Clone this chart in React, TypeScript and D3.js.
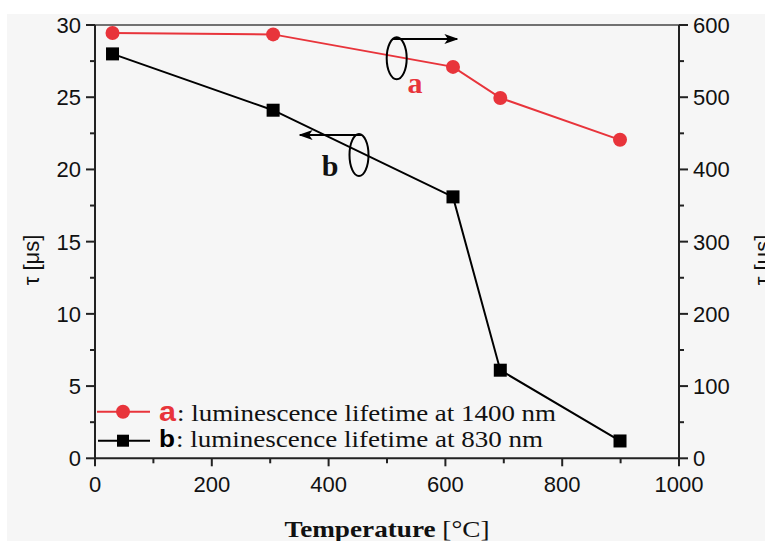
import React from "react";
import * as d3 from "d3";

// Temperature (°C) and luminescence lifetimes
const temperatures = [30, 305, 613, 694, 899];
const lifetime1400 = [589, 587, 542, 499, 441]; // series a, right axis (μs)
const lifetime830 = [28.0, 24.1, 18.1, 6.1, 1.2]; // series b, left axis (μs)

const xTicks = [0, 200, 400, 600, 800, 1000];
const leftTicks = [0, 5, 10, 15, 20, 25, 30];
const rightTicks = [0, 100, 200, 300, 400, 500, 600];

const W = 765;
const H = 541;
const M = { left: 95, right: 679, top: 25, bottom: 458.3 };

const RED = "#e8343b";
const AX = "#222";
const SANS = "'Liberation Sans', Arial, sans-serif";
const SERIF = "'Liberation Serif', 'Times New Roman', serif";

export default function App() {
  const x = d3.scaleLinear().domain([0, 1000]).range([M.left, M.right]);
  const yL = d3.scaleLinear().domain([0, 30]).range([M.bottom, M.top]);
  const yR = d3.scaleLinear().domain([0, 600]).range([M.bottom, M.top]);

  const lineA = d3
    .line<number>()
    .x((_, i) => x(temperatures[i]))
    .y((d) => yR(d));
  const lineB = d3
    .line<number>()
    .x((_, i) => x(temperatures[i]))
    .y((d) => yL(d));

  const xMinor = d3.range(100, 1000, 200);
  const leftMinor = d3.range(2.5, 30, 5);
  const rightMinor = d3.range(50, 600, 100);

  return (
    <svg
      width={W}
      height={H}
      style={{ position: "absolute", left: 0, top: 0, background: "#fff" }}
    >
      <defs>
        <marker id="arrowR" viewBox="0 0 10 10" refX="9" refY="5" markerWidth="7" markerHeight="7" orient="auto">
          <path d="M0,1.5 L10,5 L0,8.5 L2.5,5 Z" fill="#000" />
        </marker>
      </defs>
      <rect x={7} y={14} width={W - 7} height={H - 14} fill="#f6f6f6" />

      {/* frame */}
      <line x1={M.left} x2={M.right} y1={M.top} y2={M.top} stroke="#444" strokeWidth={1.5} />
      <line x1={M.left} x2={M.left} y1={M.top} y2={M.bottom} stroke={AX} strokeWidth={2} />
      <line x1={M.right} x2={M.right} y1={M.top} y2={M.bottom} stroke={AX} strokeWidth={2} />
      <line x1={M.left} x2={M.right} y1={M.bottom} y2={M.bottom} stroke={AX} strokeWidth={2} />

      {/* x axis */}
      {xTicks.map((t) => (
        <g key={"x" + t}>
          <line x1={x(t)} x2={x(t)} y1={M.bottom} y2={M.bottom + 8} stroke={AX} strokeWidth={2} />
          <text x={x(t)} y={492} textAnchor="middle" fontFamily={SANS} fontSize={22} fill="#111">
            {t}
          </text>
        </g>
      ))}
      {xMinor.map((t) => (
        <line key={"xm" + t} x1={x(t)} x2={x(t)} y1={M.bottom} y2={M.bottom + 5} stroke={AX} strokeWidth={2} />
      ))}

      {/* left axis */}
      {leftTicks.map((t) => (
        <g key={"l" + t}>
          <line x1={M.left - 9} x2={M.left} y1={yL(t)} y2={yL(t)} stroke={AX} strokeWidth={2} />
          <text x={81} y={yL(t) + 8} textAnchor="end" fontFamily={SANS} fontSize={22} fill="#111">
            {t}
          </text>
        </g>
      ))}
      {leftMinor.map((t) => (
        <line key={"lm" + t} x1={M.left - 5} x2={M.left} y1={yL(t)} y2={yL(t)} stroke={AX} strokeWidth={2} />
      ))}

      {/* right axis */}
      {rightTicks.map((t) => (
        <g key={"r" + t}>
          <line x1={M.right} x2={M.right + 9} y1={yR(t)} y2={yR(t)} stroke={AX} strokeWidth={2} />
          <text x={693} y={yR(t) + 8} textAnchor="start" fontFamily={SANS} fontSize={22} fill="#111">
            {t}
          </text>
        </g>
      ))}
      {rightMinor.map((t) => (
        <line key={"rm" + t} x1={M.right} x2={M.right + 5} y1={yR(t)} y2={yR(t)} stroke={AX} strokeWidth={2} />
      ))}

      {/* axis titles */}
      <text
        transform={`translate(39,260) rotate(-90)`}
        textAnchor="middle"
        fontFamily={SANS}
        fontSize={22}
        fill="#111"
      >
        τ [μs]
      </text>
      <text
        transform={`translate(770,260) rotate(-90)`}
        textAnchor="middle"
        fontFamily={SANS}
        fontSize={22}
        fill="#111"
      >
        τ [μs]
      </text>
      <text
        x={387}
        y={537}
        textAnchor="middle"
        fontFamily={SERIF}
        fontSize={23}
        fill="#111"
        textLength={205}
        lengthAdjust="spacingAndGlyphs"
      >
        <tspan fontWeight="bold">Temperature </tspan>
        <tspan>[°C]</tspan>
      </text>

      {/* series a */}
      <path d={lineA(lifetime1400) || ""} fill="none" stroke={RED} strokeWidth={2} />
      {lifetime1400.map((v, i) => (
        <circle key={"a" + i} cx={x(temperatures[i])} cy={yR(v)} r={7} fill={RED} />
      ))}

      {/* series b */}
      <path d={lineB(lifetime830) || ""} fill="none" stroke="#000" strokeWidth={2} />
      {lifetime830.map((v, i) => (
        <rect
          key={"b" + i}
          x={x(temperatures[i]) - 6.5}
          y={yL(v) - 6.5}
          width={13}
          height={13}
          fill="#000"
        />
      ))}

      {/* axis-direction markers */}
      <ellipse cx={396.7} cy={58.3} rx={10} ry={21} fill="none" stroke="#000" strokeWidth={2} />
      <line x1={393} y1={39} x2={457} y2={39} stroke="#000" strokeWidth={2} markerEnd="url(#arrowR)" />
      <text x={415} y={93} textAnchor="middle" fontFamily={SERIF} fontWeight="bold" fontSize={30} fill={RED}>
        a
      </text>

      <ellipse cx={359} cy={155} rx={9.5} ry={21} fill="none" stroke="#000" strokeWidth={2} />
      <line x1={362} y1={135} x2={300} y2={135} stroke="#000" strokeWidth={2} markerEnd="url(#arrowR)" />
      <text x={330} y={176} textAnchor="middle" fontFamily={SERIF} fontWeight="bold" fontSize={30} fill="#111">
        b
      </text>

      {/* legend */}
      <line x1={97} x2={150} y1={411.7} y2={411.7} stroke={RED} strokeWidth={2} />
      <circle cx={123} cy={411.7} r={7} fill={RED} />
      <text x={159} y={421} fontFamily={SANS} fontWeight="bold" fontSize={28} fill={RED} textLength={17} lengthAdjust="spacingAndGlyphs">
        a
      </text>
      <text x={177} y={421} fontFamily={SERIF} fontSize={24} fill="#111" textLength={379} lengthAdjust="spacingAndGlyphs">
        : luminescence lifetime at 1400 nm
      </text>

      <line x1={98} x2={150} y1={440.7} y2={440.7} stroke="#000" strokeWidth={2} />
      <rect x={117} y={434.7} width={12} height={12} fill="#000" />
      <text x={159} y={447} fontFamily={SANS} fontWeight="bold" fontSize={23} fill="#000" textLength={16} lengthAdjust="spacingAndGlyphs">
        b
      </text>
      <text x={176} y={447} fontFamily={SERIF} fontSize={24} fill="#111" textLength={367} lengthAdjust="spacingAndGlyphs">
        : luminescence lifetime at 830 nm
      </text>
    </svg>
  );
}
